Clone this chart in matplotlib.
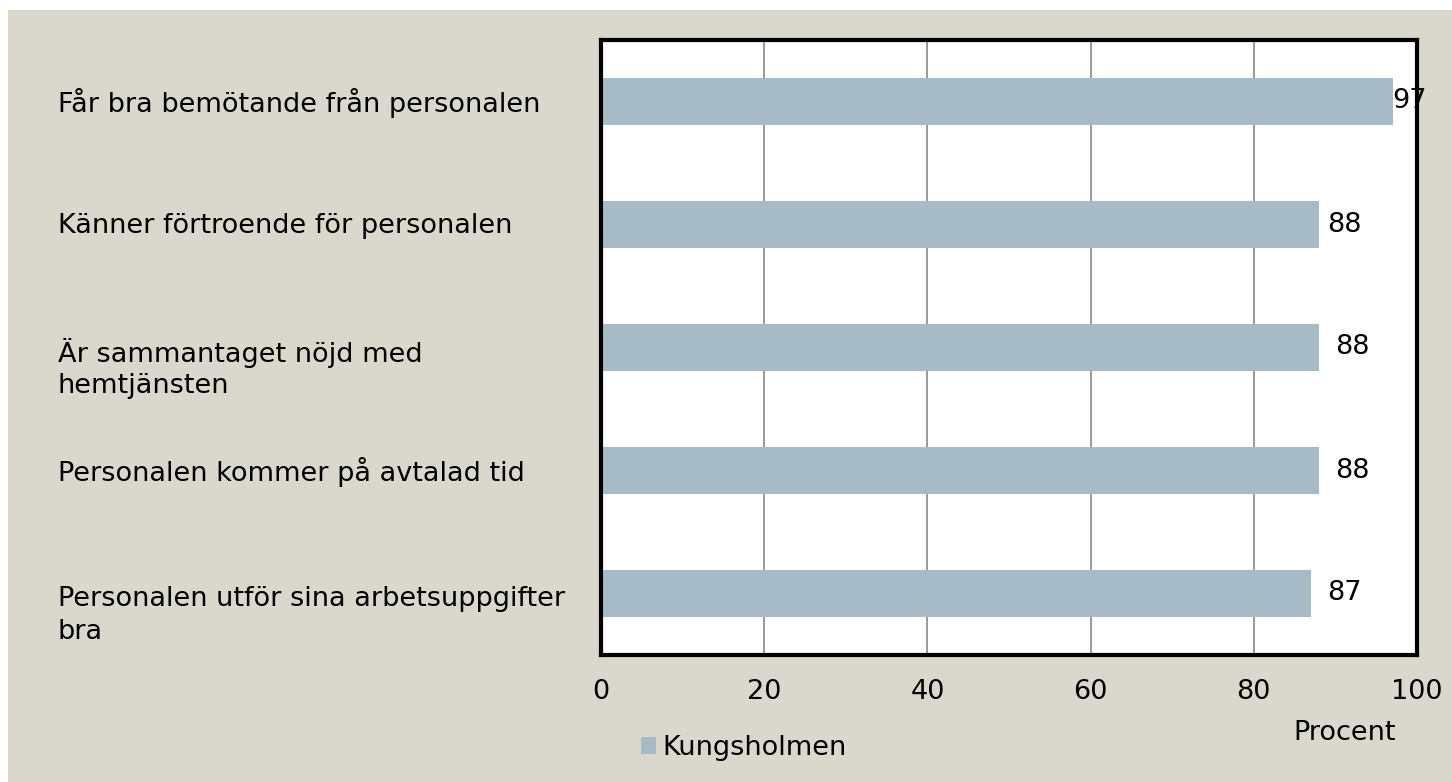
import matplotlib
matplotlib.use("Agg")
import matplotlib.pyplot as plt
from matplotlib.patches import Patch, Rectangle
from matplotlib.transforms import blended_transform_factory

plt.rcParams["font.family"] = ["DejaVu Sans"]

# data
categories = [
    "Får bra bemötande från personalen",
    "Känner förtroende för personalen",
    "Är sammantaget nöjd med\nhemtjänsten",
    "Personalen kommer på avtalad tid",
    "Personalen utför sina arbetsuppgifter\nbra",
]
values = [97, 88, 88, 88, 87]
series_name = "Kungsholmen"
x_ticks = [0, 20, 40, 60, 80, 100]

bar_color = "#a7bbc6"
bg_color = "#dad8cc"
fs = 19.5

fig = plt.figure(figsize=(14.52, 7.82), dpi=100, facecolor="white")
fig.patches.append(Rectangle((8 / 1452, 0), 1, 1 - 10 / 782, transform=fig.transFigure,
                             facecolor=bg_color, edgecolor="none", zorder=-10))

ax = fig.add_axes([601 / 1452, 1 - 655 / 782, 816 / 1452, 615 / 782])
ax.set_facecolor("white")

ypos = list(range(len(categories)))
ax.barh(ypos, values, height=0.39, color=bar_color, zorder=2)
ax.set_xlim(0, 100)
ax.set_ylim(len(categories) - 0.5, -0.5)
ax.set_xticks(x_ticks)
ax.set_xticklabels([str(t) for t in x_ticks], fontsize=fs)
ax.tick_params(axis="x", length=0, pad=17)
ax.set_yticks([])
ax.grid(axis="x", color="#999999", linewidth=1.4, zorder=1)

for s in ax.spines.values():
    s.set_linewidth(3)
    s.set_color("black")
    s.set_zorder(5)

# value labels, Excel put them at slightly different gaps
gaps = [0, 8, 16, 16, 16]
for y, v, g in zip(ypos, values, gaps):
    ax.annotate(str(v), (v, y), xytext=(g * 0.72, 0), textcoords="offset points",
                ha="left", va="center", fontsize=fs, zorder=6, annotation_clip=False)

# category labels left-aligned in figure
trans = blended_transform_factory(fig.transFigure, ax.transData)
for y, lab in zip(ypos, categories):
    lines = lab.split("\n")
    for k, line in enumerate(lines):
        ax.annotate(line, (58 / 1452, y), xycoords=trans,
                    xytext=(0, -k * 23.5 - (4 if len(lines) > 1 else 1)), textcoords="offset points",
                    ha="left", va="center", fontsize=fs, annotation_clip=False)

fig.text(1345 / 1452, 1 - 733 / 782, "Procent", ha="center", va="center", fontsize=fs)

fig.legend(handles=[Patch(facecolor=bar_color, edgecolor="none", label=series_name)],
           loc="center left", bbox_to_anchor=(641 / 1452, 1 - 748 / 782),
           frameon=False, fontsize=fs, handlelength=0.55, handleheight=0.55,
           handletextpad=0.25, borderpad=0, borderaxespad=0)

fig.savefig("out.png", dpi=100, facecolor=fig.get_facecolor())
